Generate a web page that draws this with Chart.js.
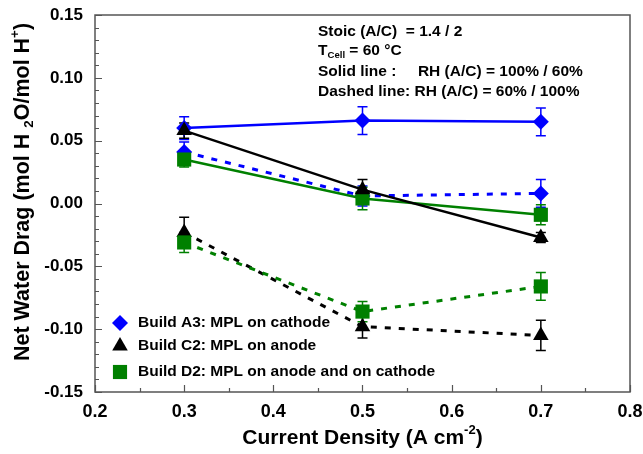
<!DOCTYPE html>
<html><head><meta charset="utf-8">
<script src="https://cdn.jsdelivr.net/npm/chart.js@4/dist/chart.umd.min.js"></script>
<style>html,body{margin:0;padding:0;background:#fff}#wrap{width:643px;height:454px;position:relative}</style>
</head><body><div id="wrap"><canvas id="c"></canvas></div>
<script>
const currentDensity = [0.3, 0.5, 0.7];
const a3SolidValues  = [0.060, 0.066, 0.065];
const a3SolidErrors  = [0.009, 0.011, 0.011];
const a3DashedValues = [0.041, 0.006, 0.008];
const a3DashedErrors = [0.008, 0.008, 0.011];
const c2SolidValues  = [0.058, 0.011, -0.027];
const c2SolidErrors  = [0.006, 0.008, 0.004];
const c2DashedValues = [-0.023, -0.098, -0.105];
const c2DashedErrors = [0.012, 0.009, 0.012];
const d2SolidValues  = [0.035, 0.004, -0.009];
const d2SolidErrors  = [0.006, 0.009, 0.008];
const d2DashedValues = [-0.031, -0.086, -0.066];
const d2DashedErrors = [0.008, 0.008, 0.011];
const xTickValues = [0.2, 0.3, 0.4, 0.5, 0.6, 0.7, 0.8];
const yTickValues = [-0.15, -0.10, -0.05, 0.00, 0.05, 0.10, 0.15];
const legendLabels = ['Build A3: MPL on cathode', 'Build C2: MPL on anode', 'Build D2: MPL on anode and on cathode'];
const noteLines = ['Stoic (A/C)  = 1.4 / 2', 'T|Cell| = 60 °C', 'Solid line :     RH (A/C) = 100% / 60%', 'Dashed line: RH (A/C) = 60% / 100%'];

const BLUE = '#0000FF', BLACK = '#000000', GREEN = '#008000';
const FONT = '"Liberation Sans", Arial, sans-serif';

function pts(vals) { return currentDensity.map((x, i) => ({ x: x, y: vals[i] })); }
function ds(label, vals, errs, color, shape, dashed, radius, order) {
  return {
    label: label, data: pts(vals), errors: errs, showLine: true,
    borderColor: color, backgroundColor: color, borderWidth: dashed ? 3 : 2.5,
    borderDash: dashed ? [6, 8] : [], pointStyle: shape, pointRadius: radius,
    pointHoverRadius: radius, pointBorderWidth: 0, order: order
  };
}
const datasets = [
  ds(legendLabels[0], a3SolidValues, a3SolidErrors, BLUE, 'rectRot', false, 8, 3),
  ds(legendLabels[0], a3DashedValues, a3DashedErrors, BLUE, 'rectRot', true, 8, 3),
  ds(legendLabels[1], c2SolidValues, c2SolidErrors, BLACK, 'triangle', false, 9, 1),
  ds(legendLabels[1], c2DashedValues, c2DashedErrors, BLACK, 'triangle', true, 9, 2),
  ds(legendLabels[2], d2SolidValues, d2SolidErrors, GREEN, 'rect', false, 10, 2),
  ds(legendLabels[2], d2DashedValues, d2DashedErrors, GREEN, 'rect', true, 10, 1)
];

function drawRich(ctx, parts, x, y, size) {
  let cx = x;
  for (const [t, m] of parts) {
    const s = m ? size * 0.62 : size;
    ctx.font = 'bold ' + s + 'px ' + FONT;
    const dy = m === 1 ? size * 0.28 : (m === 2 ? -size * 0.38 : 0);
    ctx.fillText(t, cx, y + dy);
    cx += ctx.measureText(t).width;
  }
  return cx - x;
}
function richWidth(ctx, parts, size) {
  let w = 0;
  for (const [t, m] of parts) { ctx.font = 'bold ' + (m ? size * 0.62 : size) + 'px ' + FONT; w += ctx.measureText(t).width; }
  return w;
}

const decor = {
  id: 'decor',
  beforeDatasetsDraw(chart) {
    const ctx = chart.ctx, xs = chart.scales.x, ys = chart.scales.y;
    ctx.save();
    chart.data.datasets.forEach((d) => {
      ctx.strokeStyle = d.borderColor; ctx.lineWidth = 1.5; ctx.setLineDash([]);
      d.data.forEach((p, i) => {
        const px = xs.getPixelForValue(p.x);
        const top = ys.getPixelForValue(p.y + d.errors[i]);
        const bot = ys.getPixelForValue(p.y - d.errors[i]);
        ctx.beginPath();
        ctx.moveTo(px, top); ctx.lineTo(px, bot);
        ctx.moveTo(px - 5, top); ctx.lineTo(px + 5, top);
        ctx.moveTo(px - 5, bot); ctx.lineTo(px + 5, bot);
        ctx.stroke();
      });
    });
    ctx.restore();
  },
  afterDraw(chart) {
    const ctx = chart.ctx, xs = chart.scales.x, ys = chart.scales.y, a = chart.chartArea;
    ctx.save();
    ctx.strokeStyle = '#555'; ctx.lineWidth = 1.5; ctx.setLineDash([]);
    ctx.strokeRect(a.left, a.top, a.right - a.left, a.bottom - a.top);
    ctx.beginPath();
    for (let v = -0.15; v <= 0.1501; v += 0.01) {
      const py = Math.round(ys.getPixelForValue(v)) + 0.5;
      const major = Math.abs(Math.round(v * 100) % 5) === 0;
      ctx.moveTo(a.left, py); ctx.lineTo(a.left + (major ? 7 : 4), py);
    }
    for (let v = 0.2; v <= 0.8001; v += 0.05) {
      const px = Math.round(xs.getPixelForValue(v)) + 0.5;
      const major = Math.round(v * 100) % 10 === 0;
      ctx.moveTo(px, a.bottom); ctx.lineTo(px, a.bottom - (major ? 7 : 4));
    }
    ctx.lineWidth = 1.2; ctx.stroke();

    ctx.fillStyle = '#000'; ctx.textBaseline = 'middle'; ctx.textAlign = 'left';
    const xt = [['Current Density (A cm', 0], ['-2', 2], [')', 0]];
    const xtw = richWidth(ctx, xt, 21);
    drawRich(ctx, xt, (a.left + a.right) / 2 - xtw / 2, 438, 21);
    const yt = [['Net Water Drag (mol H ', 0], ['2', 1], ['O/mol H', 0], ['+', 2], [')', 0]];
    const ytw = richWidth(ctx, yt, 21.5);
    ctx.save();
    ctx.translate(23, 192);
    ctx.rotate(-Math.PI / 2);
    drawRich(ctx, yt, -ytw / 2, 0, 21.5);
    ctx.restore();

    const nx = 318, ny = [32, 51, 72, 92];
    noteLines.forEach((line, i) => {
      const parts = line.split('|').map((s, k) => [s, k % 2 === 1 ? 1 : 0]);
      drawRich(ctx, parts, nx, ny[i], 15.5);
    });

    const ly = [323, 346, 372];
    const styles = [[BLUE, 'rectRot', 8], [BLACK, 'triangle', 9], [GREEN, 'rect', 10]];
    legendLabels.forEach((lab, i) => {
      const [c, shape, r] = styles[i];
      ctx.fillStyle = c;
      Chart.helpers.drawPoint(ctx, { pointStyle: shape, radius: r, borderWidth: 0 }, 120, ly[i]);
      ctx.fillStyle = '#000';
      drawRich(ctx, [[lab, 0]], 138, ly[i], 15.5);
    });
    ctx.restore();
  }
};

new Chart(document.getElementById('c'), {
  type: 'scatter',
  data: { datasets: datasets },
  options: {
    responsive: true, maintainAspectRatio: false, animation: false,
    layout: { padding: { top: 15, right: 13, left: 0, bottom: 0 } },
    plugins: { legend: { display: false }, tooltip: { enabled: false } },
    scales: {
      x: {
        type: 'linear', min: 0.2, max: 0.8,
        afterBuildTicks: s => { s.ticks = xTickValues.map(v => ({ value: v })); },
        afterFit: s => { s.height = 62; s.paddingLeft = 0; s.paddingRight = 0; },
        grid: { display: false, drawTicks: false }, border: { display: false },
        ticks: { padding: 9, color: '#000', font: { family: FONT, size: 18, weight: 'bold' }, maxRotation: 0,
          callback: v => v.toFixed(1) }
      },
      y: {
        type: 'linear', min: -0.15, max: 0.15,
        afterBuildTicks: s => { s.ticks = yTickValues.map(v => ({ value: v })); },
        afterFit: s => { s.width = 95; s.paddingTop = 0; s.paddingBottom = 0; },
        grid: { display: false, drawTicks: false }, border: { display: false },
        ticks: { padding: 12, color: '#000', font: { family: FONT, size: 17, weight: 'bold' },
          callback: v => v.toFixed(2) }
      }
    }
  },
  plugins: [decor]
});
</script></body></html>
